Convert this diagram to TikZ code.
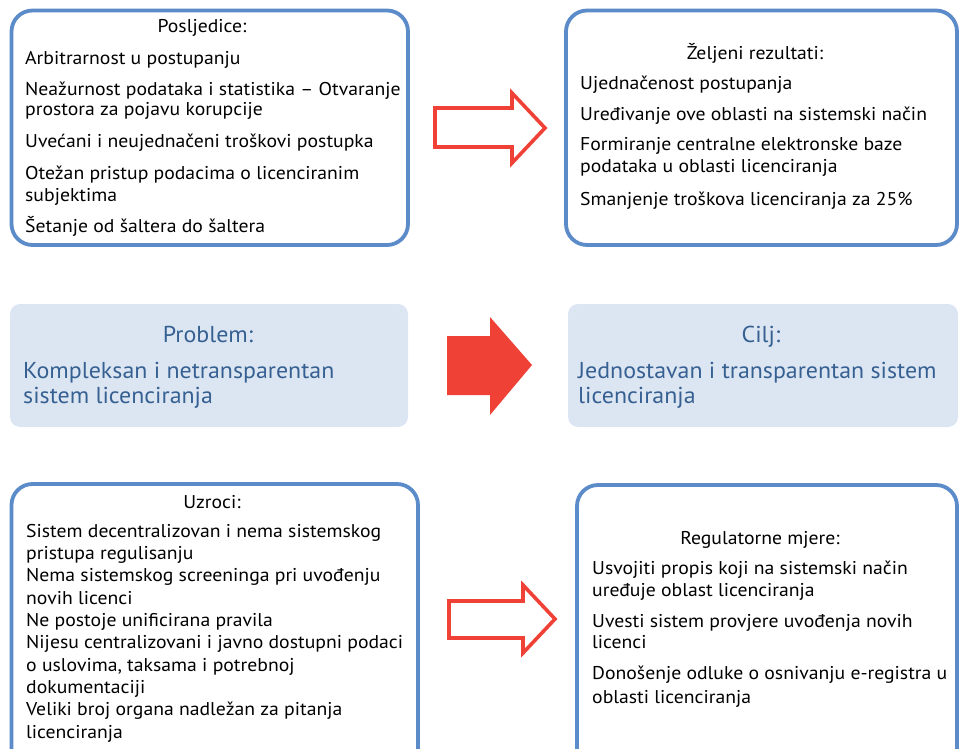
\documentclass[tikz,border=0pt]{standalone}
\usepackage{fontspec}
\setmainfont{PT Sans}
\newfontfamily\bodyfont[FakeStretch=1.065]{PT Sans}
\newfontfamily\bigfont[FakeStretch=1.04]{PT Sans}
\definecolor{boxblue}{RGB}{91,139,201}
\definecolor{arrred}{RGB}{239,65,54}
\definecolor{pfill}{RGB}{220,230,242}
\definecolor{ptext}{RGB}{54,96,146}
\tikzset{
  outline/.style={draw=boxblue, line width=3.8pt, rounded corners=21pt},
  pbox/.style={fill=pfill, rounded corners=10pt},
  body/.style={anchor=base west, inner sep=0pt, font=\bodyfont\fontsize{18.5}{21}\selectfont},
  title/.style={anchor=base, inner sep=0pt, font=\bodyfont\fontsize{18.5}{21}\selectfont},
  big/.style={anchor=base west, inner sep=0pt, text=ptext, font=\bigfont\fontsize{23}{26}\selectfont},
  bigtitle/.style={anchor=base, inner sep=0pt, text=ptext, font=\bigfont\fontsize{23}{26}\selectfont},
  hollow/.style={draw=arrred, line width=3.6pt, miter limit=10},
  solid/.style={fill=arrred},
}
\begin{document}
\begin{tikzpicture}[x=1pt,y=-1pt]
\useasboundingbox (0,0) rectangle (959,749);
\clip (0,0) rectangle (959,749);
% boxes
\draw[outline] (11.5,10.5) rectangle (408,245);
\draw[outline] (566,10.5) rectangle (957,245);
\fill[pbox] (10,304) rectangle (408,427);
\fill[pbox] (568,304) rectangle (958,427);
\draw[outline] (11.5,484) rectangle (418,790);
\draw[outline] (577,485) rectangle (957,790);
% arrows
\draw[hollow] (435,108) -- (512,108) -- (512,93) -- (545,128) -- (512,163) -- (512,147) -- (435,147) -- cycle;
\fill[solid] (447,336) -- (490,336) -- (490,317) -- (532,365) -- (490,415) -- (490,395) -- (447,395) -- cycle;
\draw[hollow] (449,601) -- (523,601) -- (523,585) -- (555,619) -- (523,653) -- (523,638) -- (449,638) -- cycle;
% top-left
\node[title] (t1) at (202,33) {Posljedice:};
\node[body] (a1) at (25,65) {Arbitrarnost u postupanju};
\node[body] (a2) at (25,96) {Neažurnost podataka i statistika – Otvaranje};
\node[body] (a3) at (25,116) {prostora za pojavu korupcije};
\node[body] (a4) at (25,148) {Uvećani i neujednačeni troškovi postupka};
\node[body] (a5) at (25,180) {Otežan pristup podacima o licenciranim};
\node[body] (a6) at (25,201) {subjektima};
\node[body] (a7) at (25,233) {Šetanje od šaltera do šaltera};
% top-right
\node[title] (t2) at (755,60) {Željeni rezultati:};
\node[body] (c1) at (580,90) {Ujednačenost postupanja};
\node[body] (c2) at (580,121) {Uređivanje ove oblasti na sistemski način};
\node[body] (c3) at (580,151) {Formiranje centralne elektronske baze};
\node[body] (c4) at (580,173) {podataka u oblasti licenciranja};
\node[body] (c5) at (580,205) {Smanjenje troškova licenciranja za 25\%};
% middle
\node[bigtitle] (t3) at (208,342) {Problem:};
\node[big] (p1) at (23,378) {Kompleksan i netransparentan};
\node[big] (p2) at (23,403) {sistem licenciranja};
\node[bigtitle] (t4) at (761,342) {Cilj:};
\node[big] (g1) at (578,378) {Jednostavan i transparentan sistem};
\node[big] (g2) at (578,403) {licenciranja};
% bottom-left
\node[title] (t5) at (212,508) {Uzroci:};
\node[body] (u1) at (26,537) {Sistem decentralizovan i nema sistemskog};
\node[body] (u2) at (26,559.4) {pristupa regulisanju};
\node[body] (u3) at (26,581.7) {Nema sistemskog screeninga pri uvođenju};
\node[body] (u4) at (26,604) {novih licenci};
\node[body] (u5) at (26,626.4) {Ne postoje unificirana pravila};
\node[body] (u6) at (26,648.8) {Nijesu centralizovani i javno dostupni podaci};
\node[body] (u7) at (26,671) {o uslovima, taksama i potrebnoj};
\node[body] (u8) at (26,693.5) {dokumentaciji};
\node[body] (u9) at (26,715.8) {Veliki broj organa nadležan za pitanja};
\node[body] (u10) at (26,738) {licenciranja};
% bottom-right
\node[title] (t6) at (760,544) {Regulatorne mjere:};
\node[body] (r1) at (592,574) {Usvojiti propis koji na sistemski način};
\node[body] (r2) at (592,596) {uređuje oblast licenciranja};
\node[body] (r3) at (592,627) {Uvesti sistem provjere uvođenja novih};
\node[body] (r4) at (592,648) {licenci};
\node[body] (r5) at (592,679) {Donošenje odluke o osnivanju e-registra u};
\node[body] (r6) at (592,703) {oblasti licenciranja};
\end{tikzpicture}
\end{document}
